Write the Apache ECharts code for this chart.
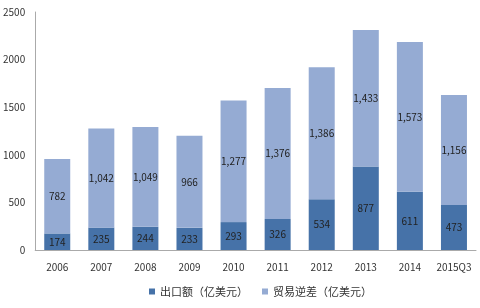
<!DOCTYPE html>
<html><head><meta charset="utf-8">
<script src="https://cdn.jsdelivr.net/npm/echarts@6/dist/echarts.min.js"></script>
<style>html,body{margin:0;padding:0;background:#fff}#c{width:480px;height:308px}</style>
</head><body><div id="c"></div>
<script>
const categories = ['2006','2007','2008','2009','2010','2011','2012','2013','2014','2015Q3'];
const exportsVal = [174,235,244,233,293,326,534,877,611,473];
const deficitVal = [782,1042,1049,966,1277,1376,1386,1433,1573,1156];
const seriesNames = ['出口额（亿美元）','贸易逆差（亿美元）'];
const font = '"Liberation Sans Narrow","Noto Sans CJK SC",sans-serif';
const fmt = p => p.value.toLocaleString('en-US');
const chart = echarts.init(document.getElementById('c'));
chart.setOption({
  animation:false,
  textStyle:{fontFamily:font},
  grid:{left:34,right:4,top:12,bottom:58},
  legend:{bottom:6,left:144,itemWidth:6,itemHeight:6,itemGap:14,icon:'rect',
    textStyle:{fontSize:11,color:'#333',fontFamily:font}},
  xAxis:{type:'category',data:categories,
    axisLine:{lineStyle:{color:'#aaa'}},axisTick:{show:false},
    axisLabel:{color:'#333',fontSize:10,margin:12,interval:0,fontFamily:font}},
  yAxis:{type:'value',min:0,max:2500,interval:500,
    axisLine:{show:true,lineStyle:{color:'#aaa'}},axisTick:{show:false},splitLine:{show:false},
    axisLabel:{color:'#333',fontSize:10,margin:10,fontFamily:font,formatter:v=>String(v)}},
  series:[
    {name:seriesNames[0],type:'bar',stack:'a',data:exportsVal,barWidth:26,
     itemStyle:{color:'#4672a8'},
     label:{show:true,position:'inside',color:'#222',fontSize:10,fontFamily:font,formatter:fmt}},
    {name:seriesNames[1],type:'bar',stack:'a',data:deficitVal,barWidth:26,
     itemStyle:{color:'#95abd3'},
     label:{show:true,position:'inside',color:'#222',fontSize:10,fontFamily:font,formatter:fmt}}
  ]
});
</script></body></html>
